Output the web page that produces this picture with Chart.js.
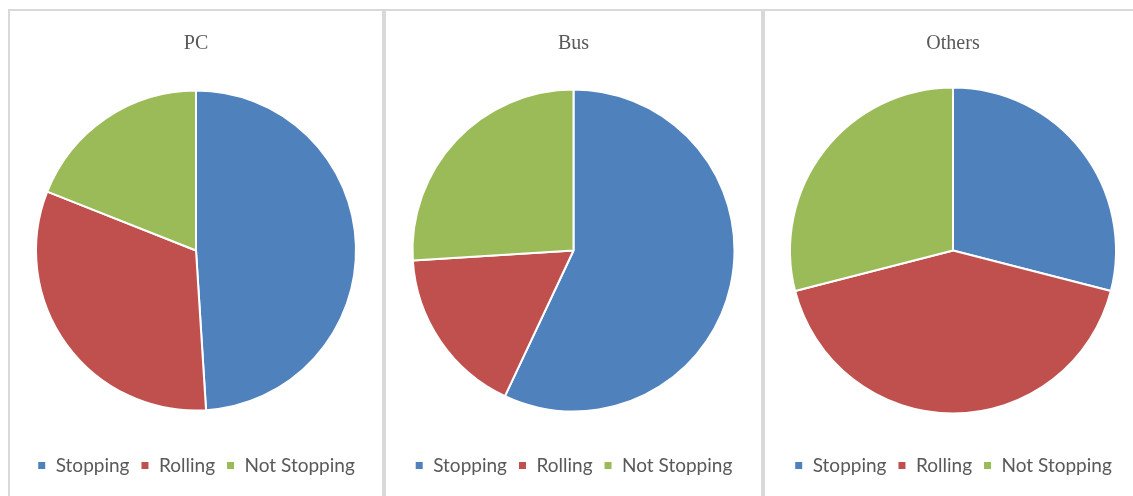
<!DOCTYPE html>
<html>
<head>
<meta charset="utf-8">
<script src="https://cdn.jsdelivr.net/npm/chart.js@4.4.1/dist/chart.umd.min.js"></script>
<style>
  html, body { margin: 0; padding: 0; background: #ffffff; width: 1133px; height: 496px; overflow: hidden; }
  .panel { position: absolute; top: 9px; height: 500px; box-sizing: border-box;
           border: 2px solid #d9d9d9; border-bottom: none; background: #fff; }
  .panel canvas { position: absolute; left: 0; top: 0; }
</style>
</head>
<body>
<div class="panel" id="p1" style="left:8px; width:376px;"><canvas id="c1"></canvas></div>
<div class="panel" id="p2" style="left:384px; width:379px;"><canvas id="c2"></canvas></div>
<div class="panel" id="p3" style="left:763px; width:380px;"><canvas id="c3"></canvas></div>
<script>
const categories = ["Stopping", "Rolling", "Not Stopping"];
const titles = ["PC", "Bus", "Others"];
const pcValues = [49, 32, 19];
const busValues = [57, 17, 26];
const othersValues = [29, 42, 29];
const colors = ["#4F81BD", "#C0504D", "#9BBB59"];

const seriesList = [pcValues, busValues, othersValues];
const radii = [160, 161, 163];
const canvasIds = ["c1", "c2", "c3"];
const panelIds = ["p1", "p2", "p3"];

seriesList.forEach((vals, i) => {
  const panel = document.getElementById(panelIds[i]);
  const cv = document.getElementById(canvasIds[i]);
  const w = panel.clientWidth;
  const h = 474;
  cv.width = w; cv.height = h;
  cv.style.width = w + "px"; cv.style.height = h + "px";
  new Chart(cv, {
    type: "pie",
    data: {
      labels: categories,
      datasets: [{
        data: vals,
        backgroundColor: colors,
        borderColor: "#ffffff",
        borderWidth: 2,
        radius: radii[i]
      }]
    },
    options: {
      responsive: false,
      animation: false,
      devicePixelRatio: 1,
      layout: { padding: 0 },
      plugins: {
        title: {
          display: true,
          text: titles[i],
          color: "#595959",
          font: { family: "'Liberation Serif', serif", size: 20, weight: "normal" },
          padding: { top: 21, bottom: 0 }
        },
        legend: {
          display: true,
          position: "bottom",
          labels: {
            color: "#595959",
            font: { family: "Lato, 'Open Sans', sans-serif", size: 19 },
            boxWidth: 9,
            boxHeight: 9,
            padding: 11
          }
        },
        tooltip: { enabled: false }
      }
    }
  });
});
</script>
</body>
</html>
